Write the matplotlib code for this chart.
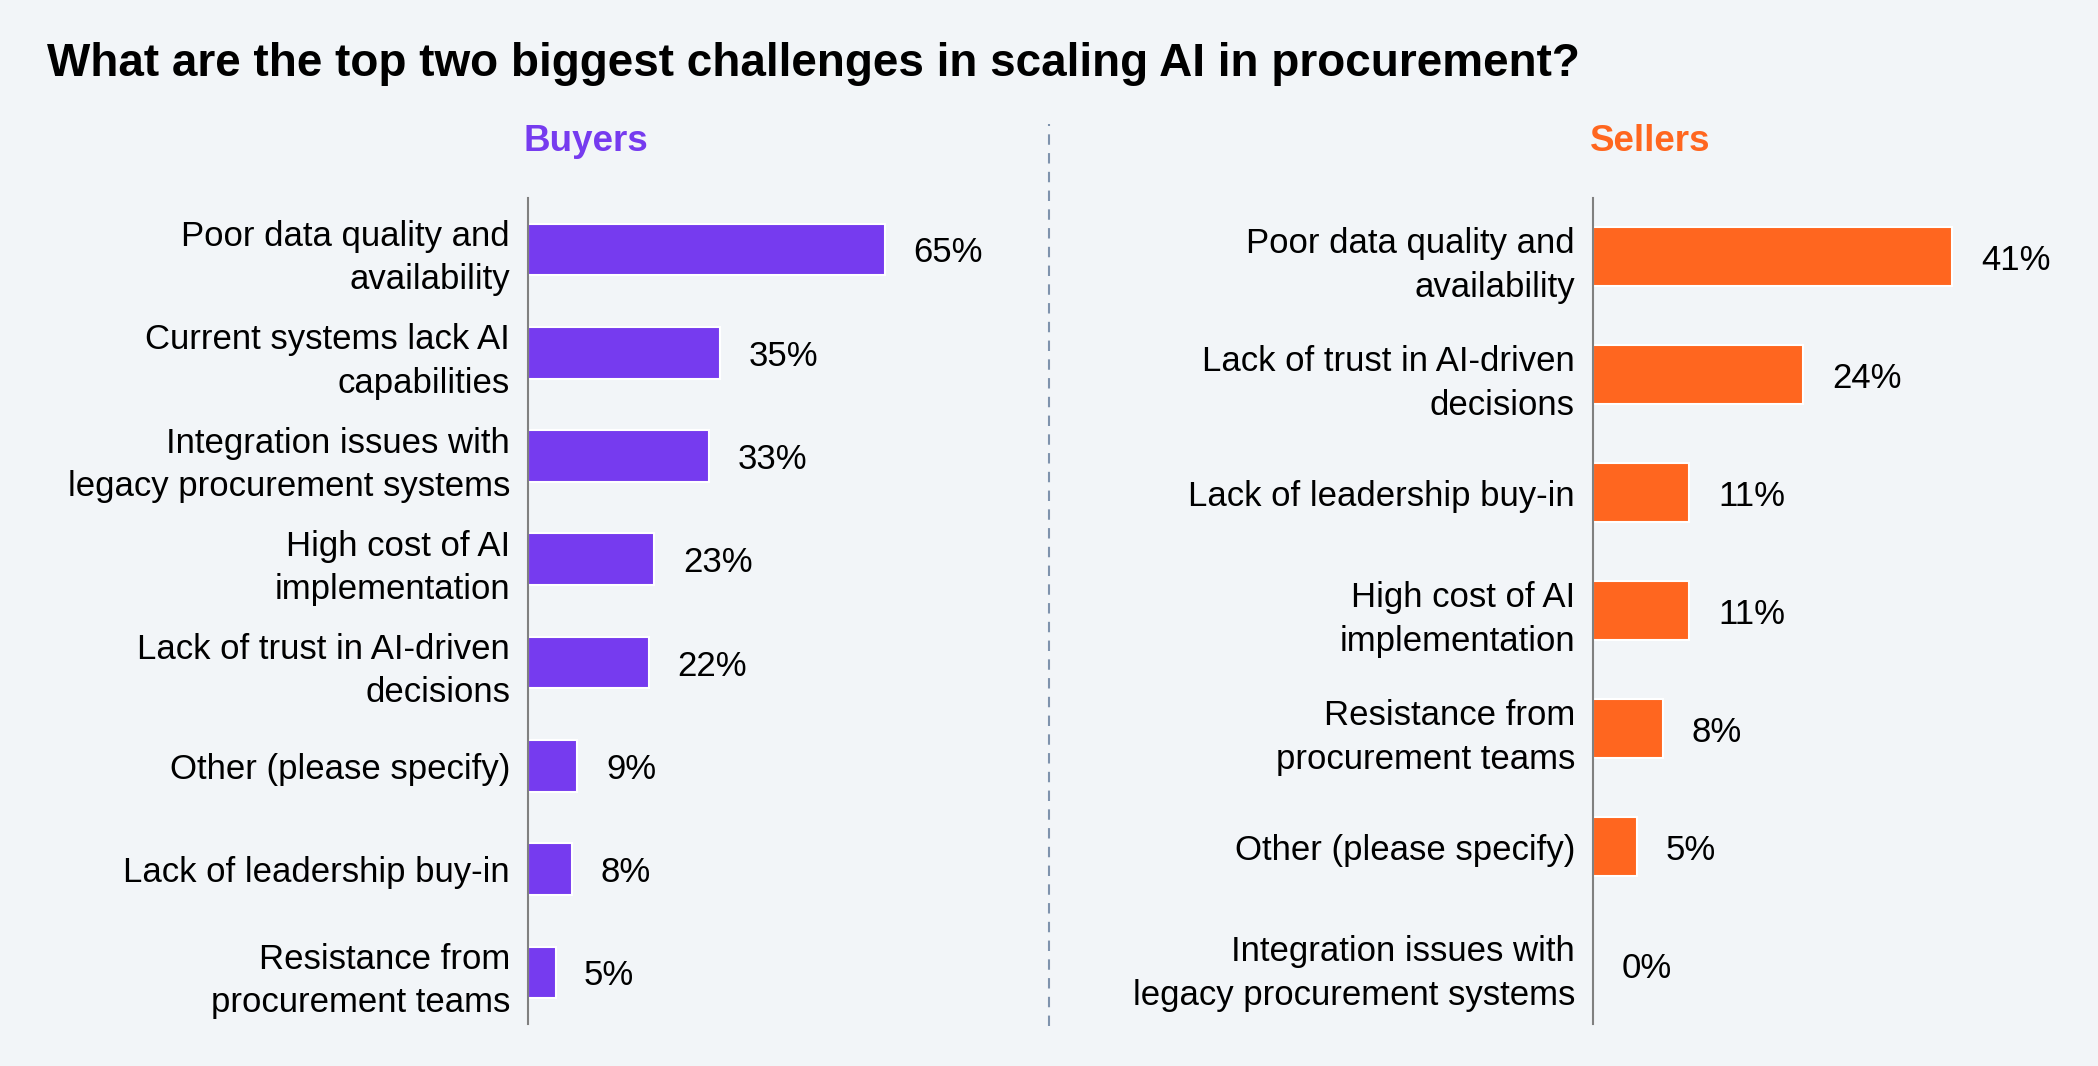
import matplotlib.pyplot as plt
from matplotlib.lines import Line2D

plt.rcParams['font.family'] = ['Liberation Sans', 'DejaVu Sans']

buyer_labels = ["Poor data quality and\navailability",
                "Current systems lack AI\ncapabilities",
                "Integration issues with\nlegacy procurement systems",
                "High cost of AI\nimplementation",
                "Lack of trust in AI-driven\ndecisions",
                "Other (please specify)",
                "Lack of leadership buy-in",
                "Resistance from\nprocurement teams"]
buyer_values = [65, 35, 33, 23, 22, 9, 8, 5]

seller_labels = ["Poor data quality and\navailability",
                 "Lack of trust in AI-driven\ndecisions",
                 "Lack of leadership buy-in",
                 "High cost of AI\nimplementation",
                 "Resistance from\nprocurement teams",
                 "Other (please specify)",
                 "Integration issues with\nlegacy procurement systems"]
seller_values = [41, 24, 11, 11, 8, 5, 0]

bg = '#f2f5f8'
purple = '#763bef'
orange = '#ff661f'

fig = plt.figure(figsize=(20.98, 10.66), dpi=100, facecolor=bg)

def panel(rect, labels, values, color, xmax, pad):
    ax = fig.add_axes(rect)
    ax.set_facecolor(bg)
    ys = list(range(len(values)))
    ax.barh(ys, values, height=0.5, color=color, edgecolor='white', linewidth=1.5)
    for y, v in zip(ys, values):
        ax.text(v + pad, y, f"{v}%", va='center_baseline', ha='left', fontsize=25, color='black')
    ax.set_yticks(ys)
    ax.set_yticklabels(labels, fontsize=25, linespacing=1.4)
    ax.set_ylim(len(values) - 0.5, -0.5)
    ax.set_xlim(0, xmax)
    ax.set_xticks([])
    for s in ['top', 'right', 'bottom']:
        ax.spines[s].set_visible(False)
    ax.spines['left'].set_color('#808080')
    ax.spines['left'].set_linewidth(1.5)
    ax.tick_params(axis='y', length=0, pad=13)
    return ax

panel([0.2517, 0.0394, 0.225, 0.775], buyer_labels, buyer_values, purple, 86, 5.2)
panel([0.7593, 0.0394, 0.2321, 0.775], seller_labels, seller_values, orange, 55.6, 3.3)

fig.text(0.0224, 0.9287, "What are the top two biggest challenges in scaling AI in procurement?",
         fontsize=33, fontweight='bold', ha='left', va='baseline', color='black')
fig.text(0.2793, 0.8668, "Buyers", fontsize=26.5, fontweight='bold', color=purple,
         ha='center', va='center')
fig.text(0.7865, 0.8668, "Sellers", fontsize=26.5, fontweight='bold', color=orange,
         ha='center', va='center')

fig.add_artist(Line2D([0.5, 0.5], [0.0375, 0.8837], transform=fig.transFigure,
                      color='#7f93ad', linestyle=(0, (5, 4)), linewidth=1.5))

fig.savefig('out.png', dpi=100, facecolor=bg)
